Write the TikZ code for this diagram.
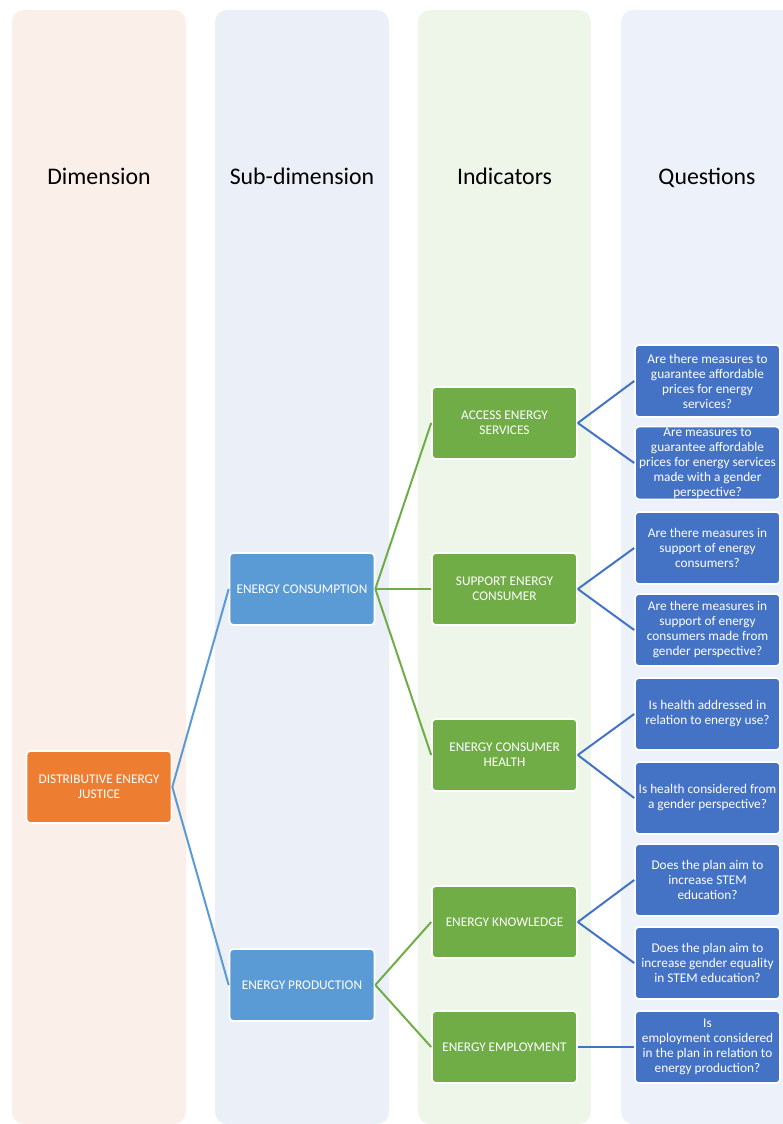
\documentclass[tikz,border=0pt]{standalone}
\usepackage{fontspec}
\setmainfont{Carlito}
\begin{document}
\definecolor{bgdim}{HTML}{FBEFE9}
\definecolor{bgsub}{HTML}{EBEFF8}
\definecolor{bgind}{HTML}{EEF6EA}
\definecolor{bgque}{HTML}{EDF1F9}
\definecolor{cdim}{HTML}{ED7D31}
\definecolor{csub}{HTML}{5B9BD5}
\definecolor{cind}{HTML}{70AD47}
\definecolor{cque}{HTML}{4472C4}
\begin{tikzpicture}[x=1pt,y=-1pt,
  column/.style={rounded corners=12pt},
  header/.style={font=\fontsize{23.8}{27}\selectfont, text=black, anchor=base},
  box/.style={draw=white, line width=1.6pt, rounded corners=4pt,
    minimum width=145pt, minimum height=72pt, inner sep=1pt,
    align=center, text=white, font=\fontsize{13.3}{15}\selectfont},
  dimbox/.style={box, fill=cdim},
  subbox/.style={box, fill=csub},
  indbox/.style={box, fill=cind},
  quebox/.style={box, fill=cque},
  link/.style={line width=2pt}]
\useasboundingbox (0,0) rectangle (783,1124);
\clip (0,0) rectangle (783,1124);

% column backgrounds
\fill[column, bgdim] (12,10) rectangle (186,1124);
\fill[column, bgsub] (215,10) rectangle (389,1124);
\fill[column, bgind] (418,10) rectangle (591,1124);
\fill[column, bgque] (621,10) rectangle (795,1124);

% column headings, sharing one baseline
\node[header] (hdim) at (99,184) {Dimension};
\node[header] (hsub) at (302,184) {Sub-dimension};
\node[header] (hind) at (504.5,184) {Indicators};
\node[header] (hque) at (707,184) {Questions};

% dimension
\node[dimbox] (dej) at (99,787) {DISTRIBUTIVE ENERGY\\JUSTICE};

% sub-dimensions
\node[subbox] (cons) at (302,589) {ENERGY CONSUMPTION};
\node[subbox] (prod) at (302,985) {ENERGY PRODUCTION};

% indicators
\node[indbox] (access) at (504.5,423) {ACCESS ENERGY\\SERVICES};
\node[indbox] (support) at (504.5,589) {SUPPORT ENERGY\\CONSUMER};
\node[indbox] (health) at (504.5,755) {ENERGY CONSUMER\\HEALTH};
\node[indbox] (know) at (504.5,922) {ENERGY KNOWLEDGE};
\node[indbox] (employ) at (504.5,1047) {ENERGY EMPLOYMENT};

% questions
\node[quebox] (q1) at (707.5,381) {Are there measures to\\guarantee affordable\\prices for energy\\services?};
\node[quebox] (q2) at (707.5,463) {Are measures to\\guarantee affordable\\prices for energy services\\made with a gender\\perspective?};
\node[quebox] (q3) at (707.5,548) {Are there measures in\\support of energy\\consumers?};
\node[quebox] (q4) at (707.5,630) {Are there measures in\\support of energy\\consumers made from\\gender perspective?};
\node[quebox] (q5) at (707.5,714) {Is health addressed in\\relation to energy use?};
\node[quebox] (q6) at (707.5,798) {Is health considered from\\a gender perspective?};
\node[quebox] (q7) at (707.5,880) {Does the plan aim to\\increase STEM\\education?};
\node[quebox] (q8) at (707.5,963) {Does the plan aim to\\increase gender equality\\in STEM education?};
\node[quebox] (q9) at (707.5,1047) {Is\\employment considered\\in the plan in relation to\\energy production?};

% connectors
\draw[link, csub] (dej.east) -- (cons.west);
\draw[link, csub] (dej.east) -- (prod.west);
\draw[link, cind] (cons.east) -- (access.west);
\draw[link, cind] (cons.east) -- (support.west);
\draw[link, cind] (cons.east) -- (health.west);
\draw[link, cind] (prod.east) -- (know.west);
\draw[link, cind] (prod.east) -- (employ.west);
\draw[link, cque] (access.east) -- (q1.west);
\draw[link, cque] (access.east) -- (q2.west);
\draw[link, cque] (support.east) -- (q3.west);
\draw[link, cque] (support.east) -- (q4.west);
\draw[link, cque] (health.east) -- (q5.west);
\draw[link, cque] (health.east) -- (q6.west);
\draw[link, cque] (know.east) -- (q7.west);
\draw[link, cque] (know.east) -- (q8.west);
\draw[link, cque] (employ.east) -- (q9.west);
\end{tikzpicture}
\end{document}
